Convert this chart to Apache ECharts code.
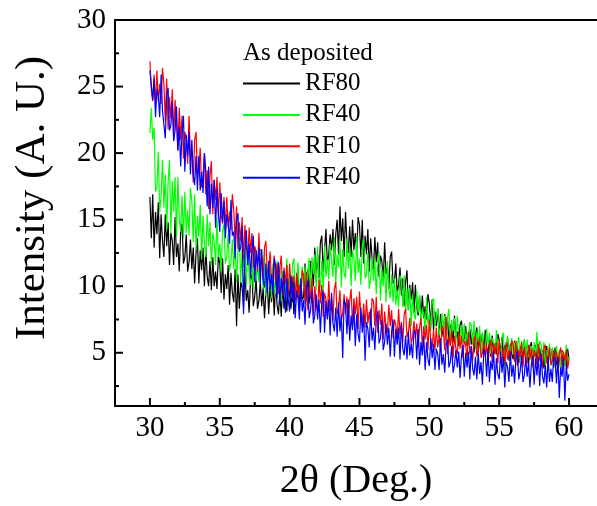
<!DOCTYPE html>
<html><head><meta charset="utf-8">
<script src="https://cdn.jsdelivr.net/npm/echarts@6/dist/echarts.min.js"></script>
<style>html,body{margin:0;padding:0;background:#fff}#c{width:597px;height:506px}</style>
</head><body><div id="c"></div>
<script>
// 2θ sampling grid (degrees)
const angleStart = 30, angleStep = 0.1;
const seriesNames = ['RF80', 'RF40', 'RF10', 'RF40 '];
const seriesColors = ['#000000', '#00ff00', '#ff0000', '#0000ff'];
const legendTitle = 'As deposited';
const xTicks = [30, 35, 40, 45, 50, 55, 60];
const xMinorTicks = [32.5, 37.5, 42.5, 47.5, 52.5, 57.5];
const yTicks = [5, 10, 15, 20, 25, 30];
const yMinorTicks = [2.5, 7.5, 12.5, 17.5, 22.5, 27.5];

const rf80 = [
16.7,13.6,16.9,12.9,15.6,13.9,16.3,12.1,15.4,13.4,
12.2,15.4,13.0,14.8,11.6,14.0,13.4,11.6,15.2,12.2,
13.2,11.1,14.1,14.7,11.7,12.2,13.9,11.1,11.8,13.5,
11.3,12.9,10.2,12.5,13.6,10.2,12.7,11.2,12.9,10.0,
12.9,10.7,10.0,11.9,9.7,12.2,10.0,11.1,9.8,12.3,
11.7,9.5,12.1,9.0,10.9,9.8,11.6,8.6,11.0,9.5,
8.8,11.3,7.0,10.9,8.3,10.3,9.9,8.4,11.3,8.9,
9.7,8.0,10.5,10.9,8.5,9.2,10.6,8.3,8.9,10.3,
8.5,9.9,7.6,9.5,10.4,7.9,10.0,8.8,10.2,7.8,
10.5,8.6,7.9,9.6,7.7,10.2,8.3,9.3,8.1,10.4,
10.4,8.3,10.7,7.9,9.7,9.3,11.0,8.1,10.4,9.0,
9.2,11.7,9.8,11.3,8.7,11.9,11.5,10.0,12.9,10.5,
12.4,10.6,13.3,13.8,11.1,12.7,14.3,11.7,12.4,13.9,
12.7,14.3,11.6,13.9,15.0,12.4,16.0,13.4,15.1,12.2,
15.6,13.3,12.5,14.5,12.2,15.0,12.7,14.0,12.5,15.2,
14.6,12.2,15.0,11.7,13.8,12.4,14.3,11.1,13.6,12.1,
11.2,13.7,11.8,13.3,10.7,12.3,11.9,10.4,13.3,10.9,
11.4,9.8,12.2,12.6,10.2,10.4,11.7,9.5,10.1,11.4,
9.3,10.6,8.5,10.3,11.2,8.2,10.1,9.0,10.3,8.0,
10.1,8.4,7.8,9.3,7.6,9.3,7.6,8.5,7.5,9.4,
8.7,7.0,9.0,6.7,8.1,7.0,8.3,6.1,7.9,6.8,
6.2,7.9,6.6,7.6,5.9,7.1,6.8,5.8,7.8,6.1,
6.6,5.5,7.1,7.4,5.8,6.1,7.0,5.5,5.9,6.8,
5.6,6.5,5.0,6.3,6.9,5.0,6.4,5.6,6.5,4.9,
6.7,5.3,4.9,6.0,4.7,6.3,5.0,5.7,4.9,6.4,
6.0,4.8,6.2,4.5,5.6,5.1,6.1,4.4,5.7,4.9,
4.5,5.9,4.8,5.6,4.2,5.5,5.2,4.4,6.0,4.7,
5.1,4.1,5.5,5.8,4.4,4.8,5.6,4.3,4.6,5.4,
4.3,5.2,3.8,5.0,5.5,4.0,5.2,4.5,5.3,3.9,
5.4,4.2,3.9,4.9,3.7,5.2,4.1,4.7,4.0,5.3,
4.5];

const rf40a = [
21.5,23.4,21.0,21.9,17.1,17.4,20.1,15.6,16.8,19.5,
15.9,18.4,14.2,17.8,19.5,14.0,17.9,15.6,18.2,13.7,
18.2,15.1,14.1,16.8,13.6,17.1,14.0,15.7,13.8,17.4,
16.4,13.3,16.9,12.7,15.3,13.7,16.1,12.0,15.3,13.3,
12.2,15.4,13.0,14.8,11.6,14.0,13.4,11.6,15.2,12.2,
13.2,11.1,14.1,14.7,11.7,12.2,13.9,11.1,11.8,13.5,
11.3,13.0,10.3,12.6,13.7,10.3,12.8,11.4,13.0,10.1,
13.0,10.8,10.1,12.0,9.8,12.7,10.4,11.6,10.3,12.8,
12.2,9.8,12.5,9.3,11.3,10.5,12.3,9.1,11.7,10.1,
9.4,11.9,10.0,11.5,8.9,11.1,10.7,9.2,12.1,9.7,
10.8,9.1,11.6,12.1,9.5,10.3,11.8,9.4,10.0,11.5,
9.9,11.5,8.9,11.1,12.1,9.8,12.2,10.9,12.4,9.7,
13.0,10.7,9.9,11.9,9.6,13.0,10.7,12.0,10.5,13.2,
13.3,10.7,13.7,10.1,12.4,11.4,13.5,9.9,12.8,11.0,
10.6,13.6,11.3,13.0,10.0,12.7,12.1,10.4,13.8,11.0,
12.1,10.1,13.0,13.5,10.6,10.9,12.5,9.8,10.6,12.2,
10.4,12.0,9.4,11.6,12.6,8.9,11.3,10.0,11.5,8.8,
11.9,9.8,9.1,10.9,8.8,10.6,8.6,9.7,8.4,10.8,
10.5,8.4,10.8,8.0,9.8,8.2,9.9,7.0,9.3,7.9,
7.5,9.7,8.0,9.3,7.1,8.3,7.9,6.6,9.2,7.1,
8.0,6.6,8.7,9.1,7.0,7.1,8.3,6.3,6.9,8.0,
6.7,7.8,6.0,7.6,8.3,5.8,7.5,6.6,7.6,5.7,
7.8,6.4,5.9,7.1,5.7,7.2,5.8,6.5,5.6,7.3,
7.1,5.6,7.4,5.3,6.6,5.8,7.0,4.9,6.5,5.5,
5.2,6.8,5.6,6.5,4.9,6.1,5.8,4.9,6.7,5.2,
5.7,4.6,6.2,6.5,3.6,5.4,6.3,4.8,5.2,6.1,
4.9,5.8,4.3,5.6,6.2,4.5,5.9,5.1,6.0,4.4,
6.0,4.8,4.5,5.5,4.3,5.8,4.7,6.6,4.6,5.9,
5.6,4.4,5.8,4.1,5.2,4.7,5.7,4.0,5.4,4.5,
4.1,5.5,4.4,5.2,3.8,5.1,4.8,4.0,5.6,4.3,
4.7];

const rf10 = [
26.9,24.7,23.9,25.9,23.6,26.2,23.9,25.2,23.7,26.4,
25.2,22.4,25.6,21.8,24.2,22.6,24.8,21.0,24.0,22.2,
20.2,23.4,21.0,22.8,19.6,21.6,21.0,19.2,22.8,19.8,
20.0,17.8,21.0,21.6,18.4,18.6,20.4,17.4,18.2,20.0,
16.9,18.7,15.8,18.3,19.4,15.4,18.0,16.5,18.2,15.2,
17.8,15.4,14.7,16.7,14.3,16.7,14.4,15.6,14.2,16.9,
15.7,13.3,16.0,12.8,14.8,13.4,15.2,12.0,14.6,13.0,
11.9,14.4,12.5,14.0,11.4,13.0,12.6,11.1,14.0,11.6,
12.2,10.5,12.9,13.4,11.0,11.2,12.6,10.3,10.9,12.3,
10.3,11.7,9.4,11.4,12.3,9.3,11.4,10.2,11.6,9.2,
11.7,9.8,9.2,10.8,8.9,11.0,9.1,10.1,8.9,11.2,
10.8,8.7,11.1,8.2,10.0,9.0,10.6,7.8,10.0,8.7,
8.1,10.5,8.7,10.1,7.7,9.5,9.0,7.7,10.4,8.1,
9.1,7.4,9.8,10.3,7.9,8.3,9.7,7.4,8.0,9.4,
7.9,9.2,7.0,8.9,9.8,7.0,9.1,7.9,9.2,6.8,
9.6,7.7,7.2,8.7,6.9,9.0,7.2,8.1,7.0,9.1,
8.9,7.0,9.2,6.5,8.2,7.1,8.7,6.0,8.1,6.8,
6.5,8.6,7.0,8.2,6.1,7.5,7.1,6.0,8.3,6.4,
7.3,5.8,7.9,8.3,6.2,6.5,7.6,5.7,6.2,7.4,
6.1,7.2,5.4,6.9,7.6,5.3,7.0,6.0,7.1,5.2,
7.5,5.9,5.4,6.7,5.2,6.9,5.4,6.2,5.2,7.0,
6.8,5.2,7.7,4.9,6.2,5.5,6.7,4.6,6.3,5.3,
4.9,6.6,5.3,6.3,4.6,5.9,5.6,4.6,6.6,4.9,
5.5,4.4,6.0,6.3,4.7,5.2,6.1,4.6,5.0,5.9,
4.7,5.6,4.1,5.4,6.0,4.3,5.7,4.9,5.8,4.2,
6.0,4.7,4.3,5.4,4.1,5.8,4.5,5.2,4.4,5.9,
5.7,4.3,5.9,4.0,5.2,4.7,5.8,3.9,5.4,4.5,
4.2,5.6,4.5,5.3,3.9,5.2,4.9,4.1,5.7,4.4,
4.9,3.9,5.3,5.6,4.2,4.6,5.4,4.1,4.4,5.2,
4.2,5.1,3.7,4.9,5.4,3.9,5.1,4.4,5.2,3.8,
4.5];

const rf40b = [
26.2,26.1,24.0,25.6,22.7,24.8,24.3,22.7,25.9,23.2,
23.3,21.1,24.3,24.9,21.7,22.1,23.9,20.9,21.7,23.5,
20.2,22.0,19.0,21.6,22.8,18.6,21.4,19.8,21.6,18.4,
21.0,18.4,17.6,19.8,17.2,19.8,17.2,18.6,17.0,20.0,
18.6,16.0,19.0,15.4,17.7,15.9,18.0,14.4,17.3,15.5,
14.1,17.0,14.8,16.4,13.6,15.4,14.8,13.2,16.5,13.8,
14.1,12.1,15.0,15.5,12.6,12.9,14.5,7.9,12.6,14.2,
11.6,13.2,10.6,12.8,13.8,10.3,12.7,11.4,12.9,10.2,
12.8,10.5,9.9,11.7,9.5,11.9,9.7,10.9,9.5,12.1,
11.5,9.1,11.8,8.6,10.6,9.4,11.2,8.0,10.6,9.0,
8.1,10.8,8.8,10.3,7.6,9.6,9.1,7.5,10.6,8.1,
9.0,7.1,9.8,10.4,7.6,8.2,9.7,7.2,7.8,9.4,
7.5,9.0,6.5,8.7,9.7,6.5,8.9,7.5,9.0,6.3,
9.5,7.2,6.6,8.4,6.2,8.8,6.6,7.8,4.6,9.0,
8.6,6.4,9.0,5.9,7.8,6.7,8.5,5.5,7.9,6.4,
5.8,8.4,6.5,7.9,4.4,7.3,6.8,5.4,8.3,5.9,
6.9,5.2,7.6,8.1,5.7,6.1,7.5,5.2,5.8,7.2,
5.6,6.9,4.7,6.6,7.5,4.7,6.8,5.6,6.9,4.5,
7.2,5.3,4.8,6.3,4.5,6.6,4.8,5.7,4.6,6.7,
6.5,4.5,6.8,4.1,5.8,4.8,6.3,3.7,5.8,4.5,
4.0,6.1,4.6,5.7,3.7,5.3,4.9,3.7,6.1,4.1,
4.9,3.5,5.6,6.0,3.9,4.3,5.5,3.5,4.1,5.2,
3.9,5.1,3.1,4.8,5.6,3.2,5.0,3.9,5.1,3.0,
5.5,3.8,3.3,4.7,3.0,5.0,3.4,4.3,2.6,5.2,
5.0,3.2,5.3,2.8,4.4,3.7,5.1,2.6,4.6,3.4,
3.0,5.1,3.5,4.7,2.4,4.3,3.9,2.8,5.1,3.2,
4.1,2.7,4.7,5.1,3.0,3.6,4.8,2.8,3.3,4.7,
3.2,4.3,2.4,4.1,4.8,2.6,4.6,3.3,4.7,2.5,
4.9,3.2,2.7,4.1,2.4,4.6,2.8,3.8,2.8,4.7,
4.5,2.7,4.7,1.6,3.9,3.2,4.6,1.4,4.1,2.9,
3.4];

const seriesValues = [rf80, rf40a, rf10, rf40b];

function toPoints(vals) {
  return vals.map((v, i) => [Math.round((angleStart + i * angleStep) * 10) / 10, v]);
}

const FONT = 'Liberation Serif';
const X_MIN = 27.5, X_MAX = 62, Y_MIN = 1, Y_MAX = 30;
const chart = echarts.init(document.getElementById('c'), null, { renderer: 'canvas' });

chart.setOption({
  animation: false,
  backgroundColor: '#fff',
  title: {
    text: legendTitle, left: 238, top: 36,
    textStyle: { fontFamily: FONT, fontSize: 25, fontWeight: 'normal', color: '#000' }
  },
  legend: {
    orient: 'vertical', left: 238, top: 66,
    itemWidth: 57, itemHeight: 2, itemGap: 6.4, icon: 'rect',
    data: seriesNames,
    textStyle: { fontFamily: FONT, fontSize: 25, color: '#000' }
  },
  grid: { left: 115, right: 0, top: 20, bottom: 89 },
  xAxis: [
    {
      type: 'value', min: X_MIN, max: X_MAX, position: 'bottom',
      splitLine: { show: false },
      axisLine: { show: true, onZero: false, lineStyle: { color: '#000', width: 2 } },
      axisTick: { show: false },
      axisLabel: { show: true, customValues: xTicks, fontFamily: FONT, fontSize: 29, color: '#000', margin: 8 },
      name: '2θ (Deg.)', nameLocation: 'middle', nameGap: 55,
      nameTextStyle: { fontFamily: FONT, fontSize: 40, color: '#000' }
    },
    {
      type: 'value', min: X_MIN, max: X_MAX, position: 'top',
      splitLine: { show: false },
      axisLine: { show: true, onZero: false, lineStyle: { color: '#000', width: 2 } },
      axisTick: { show: false },
      axisLabel: { show: false }
    }
  ],
  yAxis: [
    {
      type: 'value', min: Y_MIN, max: Y_MAX, position: 'left',
      splitLine: { show: false },
      axisLine: { show: true, onZero: false, lineStyle: { color: '#000', width: 2 } },
      axisTick: { show: false },
      axisLabel: { show: true, customValues: yTicks, fontFamily: FONT, fontSize: 29, color: '#000', margin: 9 },
      name: 'Intensity (A. U.)', nameLocation: 'middle', nameGap: 61,
      nameTextStyle: { fontFamily: FONT, fontSize: 43, color: '#000', padding: [0, 0, 0, 30] }
    }
  ],
  series: seriesNames.map((name, k) => ({
    name: name,
    type: 'line',
    xAxisIndex: 0, yAxisIndex: 0,
    data: toPoints(seriesValues[k]),
    showSymbol: false, symbol: 'none',
    sampling: null,
    color: seriesColors[k],
    lineStyle: { color: seriesColors[k], width: 1.2 },
    emphasis: { disabled: true }
  }))
});

// inward tick marks, positioned through the axes' own scales
function tickMarks() {
  const els = [];
  const yBase = chart.convertToPixel({ yAxisIndex: 0 }, Y_MIN);
  const xBase = chart.convertToPixel({ xAxisIndex: 0 }, X_MIN);
  const addX = (vals, len) => vals.forEach(v => {
    const x = chart.convertToPixel({ xAxisIndex: 0 }, v);
    els.push({ type: 'line', silent: true, z: 100,
      shape: { x1: x, y1: yBase, x2: x, y2: yBase - len },
      style: { stroke: '#000', lineWidth: 2 } });
  });
  const addY = (vals, len) => vals.forEach(v => {
    const y = chart.convertToPixel({ yAxisIndex: 0 }, v);
    els.push({ type: 'line', silent: true, z: 100,
      shape: { x1: xBase, y1: y, x2: xBase + len, y2: y },
      style: { stroke: '#000', lineWidth: 2 } });
  });
  addX(xTicks, 8); addX(xMinorTicks, 4);
  addY(yTicks.filter(v => v < Y_MAX), 8); addY(yMinorTicks, 4);
  chart.setOption({ graphic: { elements: els } });
}
tickMarks();
</script></body></html>
